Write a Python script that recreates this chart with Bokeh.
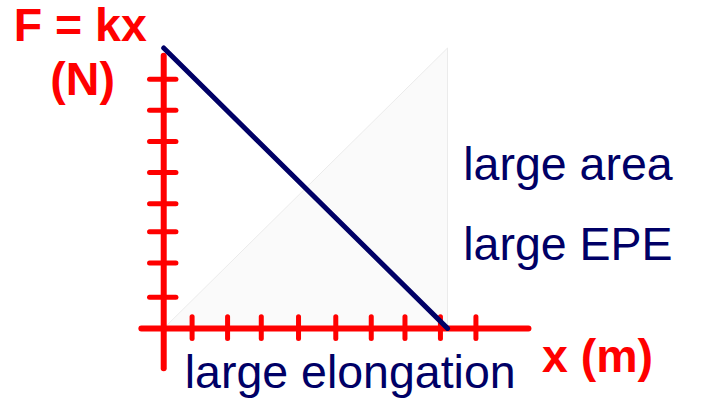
from bokeh.plotting import figure
from bokeh.models import Range1d, Label, ColumnDataSource
from bokeh.embed import file_html
from bokeh.resources import INLINE

# ---- data (in chart units) ----
line_x = [0.0, 8.0]          # elongation
line_f = [9.0, 0.0]          # force as drawn
x_ticks = [0.8, 1.8, 2.75, 3.8, 4.85, 5.85, 6.8, 7.8, 8.8]
f_ticks = [1.0, 2.1, 3.1, 4.0, 5.0, 6.0, 7.0, 8.0]
area_x = [0.0, 8.0, 8.0]
area_f = [0.0, 0.0, 9.0]
x_axis_extent = [-0.63, 10.28]
f_axis_extent = [-1.28, 8.75]

title_y = "F = kx"
unit_y = "(N)"
title_x = "x (m)"
label_bottom = "large elongation"
label_area = "large area"
label_epe = "large EPE"

# ---- layout constants ----
W, H = 690, 400
SX, SY = W / 706, H / 416              # reference -> figure scale
ORIGIN_PX_X, ORIGIN_PX_Y = 167 * SX, 341 * SY
XU, YU = 36.3 * SX, 32.4 * SY           # pixels per unit
TEXT_SHIFT = 16                          # compensation for label baseline placement

x0 = -ORIGIN_PX_X / XU
x1 = (W - ORIGIN_PX_X) / XU
y0 = -(H - ORIGIN_PX_Y) / YU
y1 = ORIGIN_PX_Y / YU

RED = "#ff0000"
NAVY = "#000066"

p = figure(width=W, height=H, output_backend="svg", toolbar_location=None,
           x_range=Range1d(x0, x1), y_range=Range1d(y0, y1), min_border=0)
p.axis.visible = False
p.grid.visible = False
p.outline_line_color = None
p.background_fill_color = "white"

# faint triangle
p.patch(area_x, area_f, fill_color="#fafafa", line_color="#ebebeb", line_width=1)

# axes
p.segment(x0=[x_axis_extent[0]], y0=[0], x1=[x_axis_extent[1]], y1=[0],
          line_color=RED, line_width=6, line_cap="round")
p.segment(x0=[0], y0=[f_axis_extent[0]], x1=[0], y1=[f_axis_extent[1]],
          line_color=RED, line_width=6, line_cap="round")

# ticks
tx = ColumnDataSource(dict(x=x_ticks, ylo=[-10.5 / 32.4] * len(x_ticks), yhi=[12.0 / 32.4] * len(x_ticks)))
p.segment(x0="x", y0="ylo", x1="x", y1="yhi", source=tx,
          line_color=RED, line_width=5, line_cap="round")
ty = ColumnDataSource(dict(y=f_ticks, xlo=[-14.5 / 36.3] * len(f_ticks), xhi=[12.5 / 36.3] * len(f_ticks)))
p.segment(x0="xlo", y0="y", x1="xhi", y1="y", source=ty,
          line_color=RED, line_width=5, line_cap="round")

# force line
p.line(line_x, line_f, line_color=NAVY, line_width=5, line_cap="round")

FONT = "Liberation Sans"


def lab(txt, rx, ry, color, bold=False, align="left", size="46.5px"):
    p.add_layout(Label(x=rx * SX, y=H - ry * SY + TEXT_SHIFT, x_units="screen", y_units="screen", text=txt,
                       text_color=color, text_font=FONT, text_font_size=size,
                       text_font_style="bold" if bold else "normal",
                       text_align=align, text_baseline="alphabetic"))


lab(title_y, 13.5, 41.7, RED, bold=True)
lab(unit_y, 84, 98, RED, bold=True, align="center")
lab(title_x, 554, 386.7, RED, bold=True)
lab(label_bottom, 188.5, 403, NAVY)
lab(label_area, 473.5, 187, NAVY)
lab(label_epe, 473.5, 270, NAVY)

open("out.html", "w").write(file_html(p, INLINE))
